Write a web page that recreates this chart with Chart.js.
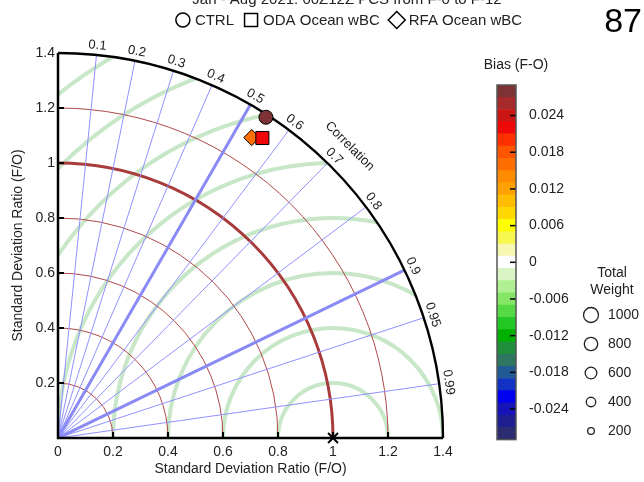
<!DOCTYPE html>
<html>
<head>
<meta charset="utf-8">
<script src="https://cdn.jsdelivr.net/npm/chart.js@4.4.1/dist/chart.umd.min.js"></script>
<style>
  html, body { margin: 0; padding: 0; background: #fff; }
  #wrap { position: relative; width: 644px; height: 482px; overflow: hidden; }
  #taylor { position: absolute; left: 0; top: 0; }
  #bias { position: absolute; left: 470px; top: 50px; }
</style>
</head>
<body>
<div id="wrap">
  <canvas id="taylor" width="644" height="482"></canvas>
  <canvas id="bias" width="174" height="411"></canvas>
</div>
<script>
// models on the diagram
const models = ["CTRL", "ODA Ocean wBC", "RFA Ocean wBC"];
const modelShapes = ["circle", "rect", "rectRot"];
const stdRatio = [1.39, 1.32, 1.30];
const correlation = [0.544, 0.563, 0.542];
const bias = [0.028, 0.022, 0.016];
const weight = [870, 760, 870];

// reference point and grid values
const refStd = 1.0;
const maxStd = 1.4;
const stdArcs = [0.2, 0.4, 0.6, 0.8, 1.0, 1.2];
const rmsArcs = [0.2, 0.4, 0.6, 0.8, 1.0, 1.2, 1.4, 1.6];
const corrTicks = [0.1, 0.2, 0.3, 0.4, 0.5, 0.6, 0.7, 0.8, 0.9, 0.95, 0.99];
const corrLabels = ["0.1", "0.2", "0.3", "0.4", "0.5", "0.6", "0.7", "0.8", "0.9", "0.95", "0.99"];
const boldCorr = [0.5, 0.9];

// colour bar
const biasEdges = [-0.029, -0.027, -0.025, -0.023, -0.021, -0.019, -0.017, -0.015, -0.013, -0.011,
  -0.009, -0.007, -0.005, -0.003, -0.001, 0.001, 0.003, 0.005, 0.007, 0.009,
  0.011, 0.013, 0.015, 0.017, 0.019, 0.021, 0.023, 0.025, 0.027, 0.029];
const biasColors = ["#2c2c70", "#1f1f92", "#1414b8", "#0000f0", "#1232c4", "#215a94", "#2e7660",
  "#1f8f3c", "#00b000", "#24c824", "#55d944", "#84e664", "#b0f092", "#d9f5c5", "#ffffff",
  "#f7f7b3", "#f7f74f", "#ffff00", "#ffd800", "#ffbc00", "#ffa200", "#ff8c00", "#ff6e00",
  "#ff5500", "#ff3000", "#ee0808", "#cc1616", "#a62a2c", "#7d3236"];
const biasTicks = [-0.024, -0.018, -0.012, -0.006, 0, 0.006, 0.012, 0.018, 0.024];
const biasTickLabels = ["-0.024", "-0.018", "-0.012", "-0.006", "0", "0.006", "0.012", "0.018", "0.024"];

// weight legend
const weightLevels = [1000, 800, 600, 400, 200];

Chart.defaults.font.family = "'Liberation Sans', Arial, sans-serif";
Chart.defaults.color = "#222";

const FONT = "'Liberation Sans', Arial, sans-serif";

function biasColor(b) {
  for (let i = 0; i < biasColors.length; i++) {
    if (b >= biasEdges[i] && b < biasEdges[i + 1]) return biasColors[i];
  }
  return b < 0 ? biasColors[0] : biasColors[biasColors.length - 1];
}
// marker size from total weight
function wSize(w) { return 7.5 * Math.sqrt(w / 1000); }

function toXY(s, c) { return { x: s * c, y: s * Math.sqrt(1 - c * c) }; }

const sizeFactor = { circle: 1, rect: Math.SQRT2, rectRot: 1.15 };

const taylorSets = models.map((m, i) => ({
  label: m,
  data: [toXY(stdRatio[i], correlation[i])],
  pointStyle: modelShapes[i],
  pointRadius: wSize(weight[i]) * sizeFactor[modelShapes[i]],
  backgroundColor: biasColor(bias[i]),
  borderColor: "#000",
  borderWidth: 1,
  clip: false
}));
taylorSets.push({
  label: "REF",
  data: [toXY(refStd, 1)],
  pointStyle: "crossRot",
  pointRadius: 7,
  borderColor: "#000",
  borderWidth: 2,
  clip: false
});

// arcs, rays, labels of the taylor diagram
const taylorGrid = {
  id: "taylorGrid",
  beforeDatasetsDraw(chart) {
    const { ctx } = chart;
    const x = chart.scales.x, y = chart.scales.y;
    const ox = x.getPixelForValue(0), oy = y.getPixelForValue(0);
    const u = x.getPixelForValue(1) - ox;
    const R = maxStd * u;

    ctx.save();
    ctx.beginPath();
    ctx.moveTo(ox, oy);
    ctx.arc(ox, oy, R, -Math.PI / 2, 0);
    ctx.closePath();
    ctx.clip();

    // rms difference circles
    ctx.strokeStyle = "#c8e6c8";
    ctx.lineWidth = 4;
    const rx = x.getPixelForValue(refStd);
    rmsArcs.forEach(r => {
      ctx.beginPath();
      ctx.arc(rx, oy, r * u, Math.PI, 2 * Math.PI);
      ctx.stroke();
    });

    // std ratio arcs
    stdArcs.forEach(s => {
      ctx.beginPath();
      ctx.strokeStyle = s === refStd ? "#a83c3c" : "#b04848";
      ctx.lineWidth = s === refStd ? 3 : 1;
      ctx.arc(ox, oy, s * u, -Math.PI / 2, 0);
      ctx.stroke();
    });

    // correlation rays
    corrTicks.forEach(c => {
      const t = Math.acos(c);
      ctx.beginPath();
      ctx.strokeStyle = boldCorr.includes(c) ? "#8a8af5" : "#9090ff";
      ctx.lineWidth = boldCorr.includes(c) ? 3 : 1;
      ctx.moveTo(ox, oy);
      ctx.lineTo(ox + R * Math.cos(t), oy - R * Math.sin(t));
      ctx.stroke();
    });
    ctx.restore();

    ctx.save();
    // outer arc and axes
    ctx.strokeStyle = "#000";
    ctx.lineWidth = 2.4;
    ctx.beginPath();
    ctx.arc(ox, oy, R, -Math.PI / 2, 0);
    ctx.stroke();
    ctx.lineWidth = 2.5;
    ctx.beginPath();
    ctx.moveTo(ox, oy - R);
    ctx.lineTo(ox, oy);
    ctx.lineTo(ox + R, oy);
    ctx.stroke();

    // inward tick marks
    ctx.lineWidth = 2;
    stdArcs.forEach(s => {
      ctx.beginPath();
      ctx.moveTo(ox + s * u, oy);
      ctx.lineTo(ox + s * u, oy - 6);
      ctx.moveTo(ox, oy - s * u);
      ctx.lineTo(ox + 6, oy - s * u);
      ctx.stroke();
    });

    // correlation labels
    ctx.fillStyle = "#222";
    ctx.font = "13px " + FONT;
    ctx.textAlign = "center";
    ctx.textBaseline = "bottom";
    corrTicks.forEach((c, i) => {
      const t = Math.acos(c);
      ctx.save();
      ctx.translate(ox + (R + 3) * Math.cos(t), oy - (R + 3) * Math.sin(t));
      ctx.rotate(Math.PI / 2 - t);
      ctx.fillText(corrLabels[i], 0, 0);
      ctx.restore();
    });
    const tc = Math.PI / 4;
    ctx.save();
    ctx.translate(ox + (R + 21) * Math.cos(tc), oy - (R + 21) * Math.sin(tc));
    ctx.rotate(Math.PI / 2 - tc);
    ctx.font = "13px " + FONT;
    ctx.fillText("Correlation", 0, 0);
    ctx.restore();
    ctx.restore();
  },
  afterDraw(chart) {
    const { ctx } = chart;
    ctx.save();
    ctx.fillStyle = "#222";
    // title, cut by the top edge
    ctx.font = "15px " + FONT;
    ctx.textAlign = "center";
    ctx.textBaseline = "alphabetic";
    ctx.fillText("Jan - Aug 2021: 00Z12Z PCS from F-0 to F-12", 347, 4);

    // legend row
    ctx.font = "15px " + FONT;
    ctx.textBaseline = "middle";
    ctx.textAlign = "left";
    const ly = 20;
    let total = 0;
    models.forEach(m => { total += 14 + 5 + ctx.measureText(m).width; });
    total += 10 * (models.length - 1);
    let lx = 349 - total / 2;
    ctx.strokeStyle = "#000";
    ctx.lineWidth = 1.5;
    models.forEach((m, i) => {
      const cx = lx + 7;
      ctx.beginPath();
      if (modelShapes[i] === "circle") {
        ctx.arc(cx, ly, 7, 0, 2 * Math.PI);
      } else if (modelShapes[i] === "rect") {
        ctx.rect(cx - 6.5, ly - 6.5, 13, 13);
      } else {
        ctx.moveTo(cx, ly - 8.5);
        ctx.lineTo(cx + 8.5, ly);
        ctx.lineTo(cx, ly + 8.5);
        ctx.lineTo(cx - 8.5, ly);
        ctx.closePath();
      }
      ctx.fillStyle = "#fff";
      ctx.fill();
      ctx.stroke();
      ctx.fillStyle = "#222";
      ctx.fillText(m, lx + 19, ly + 1);
      lx += 19 + ctx.measureText(m).width + 10;
    });

    // slide page number
    ctx.font = "34px " + FONT;
    ctx.textAlign = "right";
    ctx.textBaseline = "alphabetic";
    ctx.fillStyle = "#000";
    ctx.fillText("87", 642, 32);
    ctx.restore();
  }
};

new Chart(document.getElementById("taylor"), {
  type: "scatter",
  data: { datasets: taylorSets },
  options: {
    responsive: false,
    animation: false,
    layout: { padding: { left: 10, right: 201, top: 53, bottom: 4 } },
    plugins: { legend: { display: false }, tooltip: { enabled: false } },
    scales: {
      x: {
        type: "linear", min: 0, max: maxStd,
        border: { display: false },
        grid: { display: false, drawTicks: false },
        ticks: { stepSize: 0.2, font: { size: 14 }, padding: 6,
          callback: v => String(Math.round(v * 10) / 10) },
        title: { display: true, text: "Standard Deviation Ratio (F/O)", font: { size: 14 }, padding: 0 },
        afterFit: s => { s.height = 40; }
      },
      y: {
        type: "linear", min: 0, max: maxStd,
        border: { display: false },
        grid: { display: false, drawTicks: false },
        ticks: { stepSize: 0.2, font: { size: 14 }, padding: 3,
          callback: v => (v === 0 ? "" : String(Math.round(v * 10) / 10)) },
        title: { display: true, text: "Standard Deviation Ratio (F/O)", font: { size: 14 }, padding: 0 },
        afterFit: s => { s.width = 48; }
      }
    }
  },
  plugins: [taylorGrid]
});

// colour bar + weight legend
const barDecor = {
  id: "barDecor",
  afterDraw(chart) {
    const { ctx, chartArea: a } = chart;
    const ys = chart.scales.y;
    ctx.save();
    ctx.strokeStyle = "#000";
    ctx.lineWidth = 1.5;
    biasTicks.forEach(v => {
      const py = ys.getPixelForValue(v);
      ctx.beginPath();
      ctx.moveTo(a.right - 6, py);
      ctx.lineTo(a.right, py);
      ctx.stroke();
    });
    ctx.strokeStyle = "#555";
    ctx.lineWidth = 1.5;
    ctx.strokeRect(a.left, a.top, a.right - a.left, a.bottom - a.top);

    ctx.fillStyle = "#222";
    ctx.font = "14px " + FONT;
    ctx.textAlign = "center";
    ctx.textBaseline = "middle";
    ctx.fillText("Bias (F-O)", a.right, a.top - 20);

    ctx.fillText("Total", 142, 223);
    ctx.fillText("Weight", 142, 240);
    ctx.textAlign = "left";
    ctx.strokeStyle = "#222";
    ctx.lineWidth = 1.3;
    weightLevels.forEach((w, i) => {
      const cy = 265 + i * 29;
      ctx.beginPath();
      ctx.arc(121, cy, wSize(w), 0, 2 * Math.PI);
      ctx.stroke();
      ctx.fillText(String(w), 138, cy);
    });
    ctx.restore();
  }
};

new Chart(document.getElementById("bias"), {
  type: "bar",
  data: {
    labels: ["bias"],
    datasets: biasColors.map((col, i) => ({
      data: [[biasEdges[i], biasEdges[i + 1]]],
      backgroundColor: col,
      borderWidth: 0,
      grouped: false,
      barPercentage: 1,
      categoryPercentage: 1
    }))
  },
  options: {
    responsive: false,
    animation: false,
    layout: { padding: { left: 27, right: 0, top: 35, bottom: 0 } },
    plugins: { legend: { display: false }, tooltip: { enabled: false } },
    scales: {
      x: { display: false },
      y: {
        position: "right",
        min: biasEdges[0], max: biasEdges[biasEdges.length - 1],
        border: { display: false },
        grid: { display: false, drawTicks: false },
        ticks: { font: { size: 14 }, padding: 13, callback: (v, i) => biasTickLabels[i] },
        afterBuildTicks: s => { s.ticks = biasTicks.map(v => ({ value: v })); },
        afterFit: s => { s.width = 128; }
      }
    }
  },
  plugins: [barDecor]
});
</script>
</body>
</html>
